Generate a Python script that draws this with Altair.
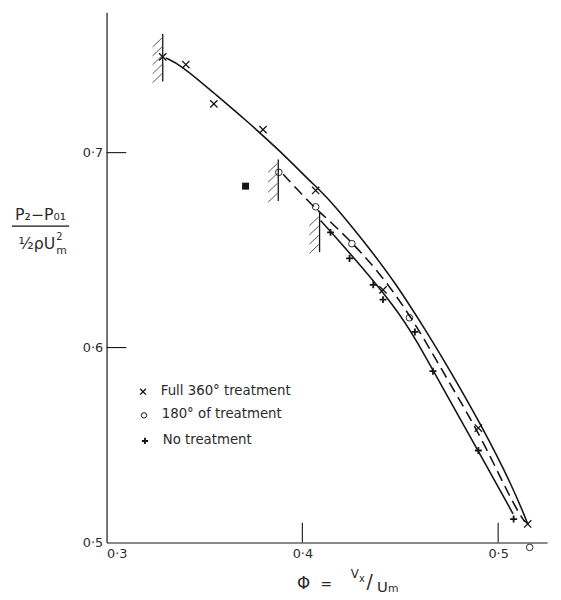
import altair as alt
import pandas as pd
import numpy as np

# ---------------- data ----------------
# Full 360 deg treatment (x markers)
full_x = [0.3287, 0.3405, 0.3548, 0.3799, 0.4068, 0.4412, 0.4899, 0.5151]
full_y = [0.7491, 0.7452, 0.7250, 0.7118, 0.6806, 0.6296, 0.5587, 0.5095]
# 180 deg of treatment (open circles)
half_x = [0.3880, 0.4068, 0.4253, 0.4547, 0.5161]
half_y = [0.6899, 0.6722, 0.6533, 0.6153, 0.4975]
# No treatment (+ markers)
none_x = [0.4144, 0.4241, 0.4362, 0.4412, 0.4575, 0.4667, 0.4899, 0.5079]
none_y = [0.6591, 0.6457, 0.6322, 0.6246, 0.6080, 0.5879, 0.5472, 0.5120]
# isolated filled square
sq_x = [0.371]
sq_y = [0.6828]

# faired curves
curve_full_x = [0.3302, 0.3378, 0.3549, 0.3715, 0.3882, 0.4053, 0.4134, 0.4305,
                0.4471, 0.4637, 0.4738, 0.4909, 0.5076, 0.5151]
curve_full_y = [0.7486, 0.7451, 0.7305, 0.7164, 0.7012, 0.6840, 0.6765, 0.6557,
                0.6340, 0.6077, 0.5910, 0.5612, 0.5283, 0.5096]
curve_half_x = [0.3902, 0.4043, 0.4093, 0.4219, 0.4385, 0.4557, 0.4738, 0.4909,
                0.5076, 0.5136]
curve_half_y = [0.6889, 0.6737, 0.6691, 0.6575, 0.6397, 0.6159, 0.5841, 0.5552,
                0.5197, 0.5106]
curve_none_x = [0.4093, 0.4118, 0.4305, 0.4471, 0.4572, 0.4738, 0.4909, 0.5076]
curve_none_y = [0.6651, 0.6625, 0.6413, 0.6210, 0.6058, 0.5754, 0.5451, 0.5147]

# hatched limit markers (x, y bottom, y top, number of hatch strokes)
hatch_x = [0.3287, 0.3877, 0.4088]
hatch_lo = [0.7365, 0.6752, 0.6489]
hatch_hi = [0.7608, 0.6965, 0.6691]
hatch_n = [5, 4, 4]

x_ticks = [0.3, 0.4, 0.5]
y_ticks = [0.5, 0.6, 0.7]
legend_labels = ["Full 360° treatment", "180° of treatment", "No treatment"]

# ---------------- layout ----------------
W, H = 447, 538
FONT = "DejaVu Sans"
INK = "#151515"
TXT = "#2a2a2a"
xs = alt.Scale(domain=[0.3, 0.525], nice=False, zero=False)
ys = alt.Scale(domain=[0.5, 0.772], nice=False, zero=False)
lab_expr = "replace(format(datum.value, '.1f'), '.', '·')"

X_AXIS = alt.Axis(values=x_ticks, labelExpr=lab_expr, ticks=False, grid=False,
                  domainColor=INK, domainWidth=1.2, labelFont=FONT, labelFontSize=13,
                  labelColor=TXT, labelPadding=5, title=None)
Y_AXIS = alt.Axis(values=y_ticks, labelExpr=lab_expr, ticks=False, grid=False,
                  domainColor=INK, domainWidth=1.2, labelFont=FONT, labelFontSize=13,
                  labelColor=TXT, labelPadding=4, title=None)

X_SHAPE = "M-1,-1L1,1M-1,1L1,-1"
P_SHAPE = "M-1,0L1,0M0,-1L0,1"


def pts(xv, yv):
    return pd.DataFrame({"x": xv, "y": yv})


def enc_xy(ch):
    return ch.encode(
        x=alt.X("x:Q", scale=xs, axis=X_AXIS),
        y=alt.Y("y:Q", scale=ys, axis=Y_AXIS),
    )


# inward ticks
xtick_layer = alt.Chart(pd.DataFrame({"v": x_ticks})).transform_filter(
    "datum.v > 0.31").mark_rule(color=INK, strokeWidth=1.1).encode(
    x=alt.X("v:Q", scale=xs, axis=X_AXIS),
    y=alt.value(H), y2=alt.value(H - 20),
)
ytick_layer = alt.Chart(pd.DataFrame({"v": y_ticks})).transform_filter(
    "datum.v > 0.51").mark_rule(color=INK, strokeWidth=1.1).encode(
    y=alt.Y("v:Q", scale=ys, axis=Y_AXIS),
    x=alt.value(0), x2=alt.value(20),
)

# curves
line_full = enc_xy(alt.Chart(pts(curve_full_x, curve_full_y)).mark_line(
    color=INK, strokeWidth=1.6, interpolate="basis"))
line_half = enc_xy(alt.Chart(pts(curve_half_x, curve_half_y)).mark_line(
    color=INK, strokeWidth=1.6, interpolate="basis", strokeDash=[11, 6]))
line_none = enc_xy(alt.Chart(pts(curve_none_x, curve_none_y)).mark_line(
    color=INK, strokeWidth=1.6, interpolate="basis"))

# markers
m_full = enc_xy(alt.Chart(pts(full_x, full_y)).mark_point(
    shape=X_SHAPE, filled=False, color=INK, strokeWidth=1.3, size=55, opacity=1))
m_half = enc_xy(alt.Chart(pts(half_x, half_y)).mark_point(
    shape="circle", filled=False, color=INK, strokeWidth=0.9, size=45, opacity=1))
m_none = enc_xy(alt.Chart(pts(none_x, none_y)).mark_point(
    shape=P_SHAPE, filled=False, color=INK, strokeWidth=1.8, size=50, opacity=1))
m_sq = enc_xy(alt.Chart(pts(sq_x, sq_y)).mark_point(
    shape="square", filled=True, color=INK, size=50, opacity=1))

# hatched limits
vert_rows, hatch_rows = [], []
for hx, lo, hi, n in zip(hatch_x, hatch_lo, hatch_hi, hatch_n):
    vert_rows.append({"x": hx, "y": lo, "x2": hx, "y2": hi})
    for yy in np.linspace(hi - 0.002, lo + 0.004, n):
        hatch_rows.append({"x": hx - 0.0052, "y": yy - 0.0046, "x2": hx - 0.0004, "y2": yy})
verts = alt.Chart(pd.DataFrame(vert_rows)).mark_rule(color=INK, strokeWidth=1.3).encode(
    x=alt.X("x:Q", scale=xs, axis=X_AXIS), y=alt.Y("y:Q", scale=ys, axis=Y_AXIS),
    x2="x2:Q", y2="y2:Q")
hatches = alt.Chart(pd.DataFrame(hatch_rows)).mark_rule(color="#444", strokeWidth=0.9).encode(
    x=alt.X("x:Q", scale=xs, axis=X_AXIS), y=alt.Y("y:Q", scale=ys, axis=Y_AXIS),
    x2="x2:Q", y2="y2:Q")


def txt(label, px, py, size=13, align="left", font=FONT, color=TXT):
    return alt.Chart(pd.DataFrame({"t": [label]})).mark_text(
        align=align, baseline="middle", font=font, fontSize=size, color=color
    ).encode(x=alt.value(px), y=alt.value(py), text="t:N")


# legend
leg_sym_x = [37, 38, 39]
leg_sym_y = [385, 409, 435]
leg_shapes = [(X_SHAPE, 1.4, 35), ("circle", 1.0, 30), (P_SHAPE, 1.9, 40)]
legend_layers = []
for lab, sx, sy, (shp, sw, sz) in zip(legend_labels, leg_sym_x, leg_sym_y, leg_shapes):
    legend_layers.append(
        alt.Chart(pd.DataFrame({"t": [lab]})).mark_point(
            shape=shp, filled=False, color=INK, strokeWidth=sw, size=sz, opacity=1
        ).encode(x=alt.value(sx), y=alt.value(sy))
    )
    legend_layers.append(txt(lab, sx + 18, sy - 1, size=13.5))

# axis titles
frac_bar = alt.Chart(pd.DataFrame({"t": [1]})).mark_rule(color=INK, strokeWidth=1.2).encode(
    x=alt.value(-96), x2=alt.value(-38), y=alt.value(217))
ytitle = [
    txt("P₂−P₀₁", -67, 206, size=16, align="center"),
    frac_bar,
    txt("½ρU", -52, 235, size=16, align="right"),
    txt("2", -51, 228, size=10),
    txt("m", -51, 242, size=11),
]
xtitle = [
    txt("Φ", 200, 580, size=17, align="center"),
    txt("=", 223, 581, size=14, align="center"),
    txt("V", 252, 570, size=12, align="center"),
    txt("x", 259, 575, size=10, align="center"),
    txt("/", 267, 578, size=19, align="center"),
    txt("U", 280, 583, size=15, align="center"),
    txt("m", 291, 585, size=11, align="center"),
]

chart = alt.layer(
    xtick_layer, ytick_layer,
    verts, hatches,
    line_full, line_half, line_none,
    m_full, m_half, m_none, m_sq,
    *legend_layers, *ytitle, *xtitle,
).properties(
    width=W, height=H,
    padding={"left": 100, "top": 0, "right": 6, "bottom": 54},
    autosize="none",
).configure_view(stroke=None)

chart.save("out.html", embed_options={"renderer": "svg", "actions": False})
